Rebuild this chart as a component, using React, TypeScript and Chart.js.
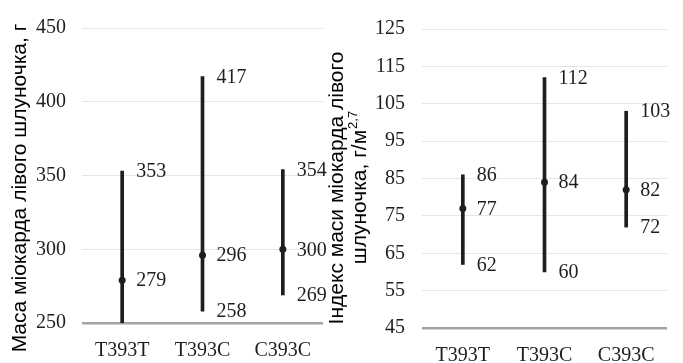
import React, { useEffect, useRef } from "react";
import { Chart, registerables } from "chart.js";

Chart.register(...registerables);

const categories = ["T393T", "T393C", "C393C"];

// Left chart: LV myocardial mass, g
const massMin = [250, 258, 269];
const massMedian = [279, 296, 300];
const massMax = [353, 417, 354];
const massTicks = { min: 250, max: 450, step: 50 };
const massTitle = ["Маса міокарда лівого шлуночка, г"];

// Right chart: LV mass index, g/m^2.7
const indexMin = [62, 60, 72];
const indexMedian = [77, 84, 82];
const indexMax = [86, 112, 103];
const indexTicks = { min: 45, max: 125, step: 10 };
const indexTitle = ["Індекс маси міокарда лівого", "шлуночка, г/м"];
const indexTitleSup = "2,7";

const SERIF = "'Liberation Serif', 'Times New Roman', serif";
const SANS = "'Liberation Sans', Arial, sans-serif";
const INK = "#1e1e1e";
const TITLE_SIZE = 21;

type Cfg = {
  mins: number[];
  medians: number[];
  maxs: number[];
  ticks: { min: number; max: number; step: number };
  title: string[];
  titleSup?: string;
  padTop: number;
  padRight: number;
  yWidth: number;
  xHeight: number;
  yTickPad: number;
  xTickPad: number;
  titleBaselines: number[];
  titleCenterY: number;
};

function makeChart(canvas: HTMLCanvasElement, c: Cfg) {
  const labelPlugin = {
    id: "valueLabels",
    afterDatasetsDraw(chart: any) {
      const ctx = chart.ctx;
      const y = chart.scales.y;
      const meta = chart.getDatasetMeta(0);
      ctx.save();
      ctx.font = `20px ${SERIF}`;
      ctx.fillStyle = INK;
      ctx.textAlign = "left";
      ctx.textBaseline = "middle";
      meta.data.forEach((el: any, i: number) => {
        const x = el.x + 14;
        [c.maxs[i], c.medians[i], c.mins[i]].forEach((v) => {
          if (v <= c.ticks.min) return;
          ctx.fillText(String(v), x, y.getPixelForValue(v) + 1);
        });
      });
      ctx.restore();
    },
  };

  const titlePlugin = {
    id: "axisTitle",
    afterDraw(chart: any) {
      const ctx = chart.ctx;
      ctx.save();
      ctx.fillStyle = "#000";
      ctx.textBaseline = "alphabetic";
      c.title.forEach((line, idx) => {
        const bx = c.titleBaselines[idx];
        ctx.save();
        ctx.translate(bx, c.titleCenterY);
        ctx.rotate(-Math.PI / 2);
        ctx.font = `${TITLE_SIZE}px ${SANS}`;
        const isLast = idx === c.title.length - 1;
        if (isLast && c.titleSup) {
          const wMain = ctx.measureText(line).width;
          ctx.font = `13px ${SANS}`;
          const wSup = ctx.measureText(c.titleSup).width;
          const start = -(wMain + wSup) / 2;
          ctx.font = `${TITLE_SIZE}px ${SANS}`;
          ctx.textAlign = "left";
          ctx.fillText(line, start, 0);
          ctx.font = `13px ${SANS}`;
          ctx.fillText(c.titleSup, start + wMain + 1, -9);
        } else {
          ctx.textAlign = "center";
          ctx.fillText(line, 0, 0);
        }
        ctx.restore();
      });
      ctx.restore();
    },
  };

  return new Chart(canvas, {
    type: "bar",
    data: {
      labels: categories,
      datasets: [
        {
          type: "bar",
          data: c.mins.map((m, i) => [m, c.maxs[i]]) as any,
          backgroundColor: INK,
          barThickness: 3,
          borderWidth: 0,
        },
        {
          type: "line",
          data: c.medians,
          showLine: false,
          pointRadius: 3.5,
          pointBackgroundColor: INK,
          pointBorderWidth: 0,
          borderColor: INK,
        } as any,
      ],
    },
    options: {
      animation: false,
      responsive: false,
      maintainAspectRatio: false,
      devicePixelRatio: 1,
      layout: { padding: { top: c.padTop, right: c.padRight, bottom: 0, left: 0 } },
      plugins: { legend: { display: false }, tooltip: { enabled: false } },
      scales: {
        x: {
          grid: { display: false, drawTicks: false },
          border: { display: false },
          ticks: { font: { family: SERIF, size: 20 }, color: INK, padding: c.xTickPad, maxRotation: 0 },
          afterFit: (s: any) => {
            s.height = c.xHeight;
          },
        },
        y: {
          min: c.ticks.min,
          max: c.ticks.max,
          grid: {
            drawTicks: false,
            color: (ctx: any) => (ctx.tick && ctx.tick.value === c.ticks.min ? "#a3a3a3" : "#e6e6e6"),
            lineWidth: (ctx: any) => (ctx.tick && ctx.tick.value === c.ticks.min ? 2.5 : 1),
          },
          border: { display: false },
          ticks: {
            stepSize: c.ticks.step,
            font: { family: SERIF, size: 20 },
            color: INK,
            padding: c.yTickPad,
          },
          afterFit: (s: any) => {
            s.width = c.yWidth;
          },
        },
      },
    },
    plugins: [labelPlugin, titlePlugin],
  });
}

export default function App() {
  const leftRef = useRef<HTMLCanvasElement>(null);
  const rightRef = useRef<HTMLCanvasElement>(null);

  useEffect(() => {
    const a = makeChart(leftRef.current!, {
      mins: massMin,
      medians: massMedian,
      maxs: massMax,
      ticks: massTicks,
      title: massTitle,
      padTop: 23,
      padRight: 17,
      yWidth: 82,
      xHeight: 40,
      yTickPad: 16,
      xTickPad: 16,
      titleBaselines: [26],
      titleCenterY: 188,
    });
    const b = makeChart(rightRef.current!, {
      mins: indexMin,
      medians: indexMedian,
      maxs: indexMax,
      ticks: indexTicks,
      title: indexTitle,
      titleSup: indexTitleSup,
      padTop: 22,
      padRight: 16,
      yWidth: 102,
      xHeight: 35,
      yTickPad: 17,
      xTickPad: 16,
      titleBaselines: [23, 46],
      titleCenterY: 188,
    });
    return () => {
      a.destroy();
      b.destroy();
    };
  }, []);

  return (
    <div style={{ position: "absolute", left: 0, top: 0, width: 683, height: 363, background: "#fff" }}>
      <canvas ref={leftRef} width={340} height={363} style={{ position: "absolute", left: 0, top: 0, width: 340, height: 363 }} />
      <canvas ref={rightRef} width={363} height={363} style={{ position: "absolute", left: 320, top: 0, width: 363, height: 363 }} />
    </div>
  );
}
